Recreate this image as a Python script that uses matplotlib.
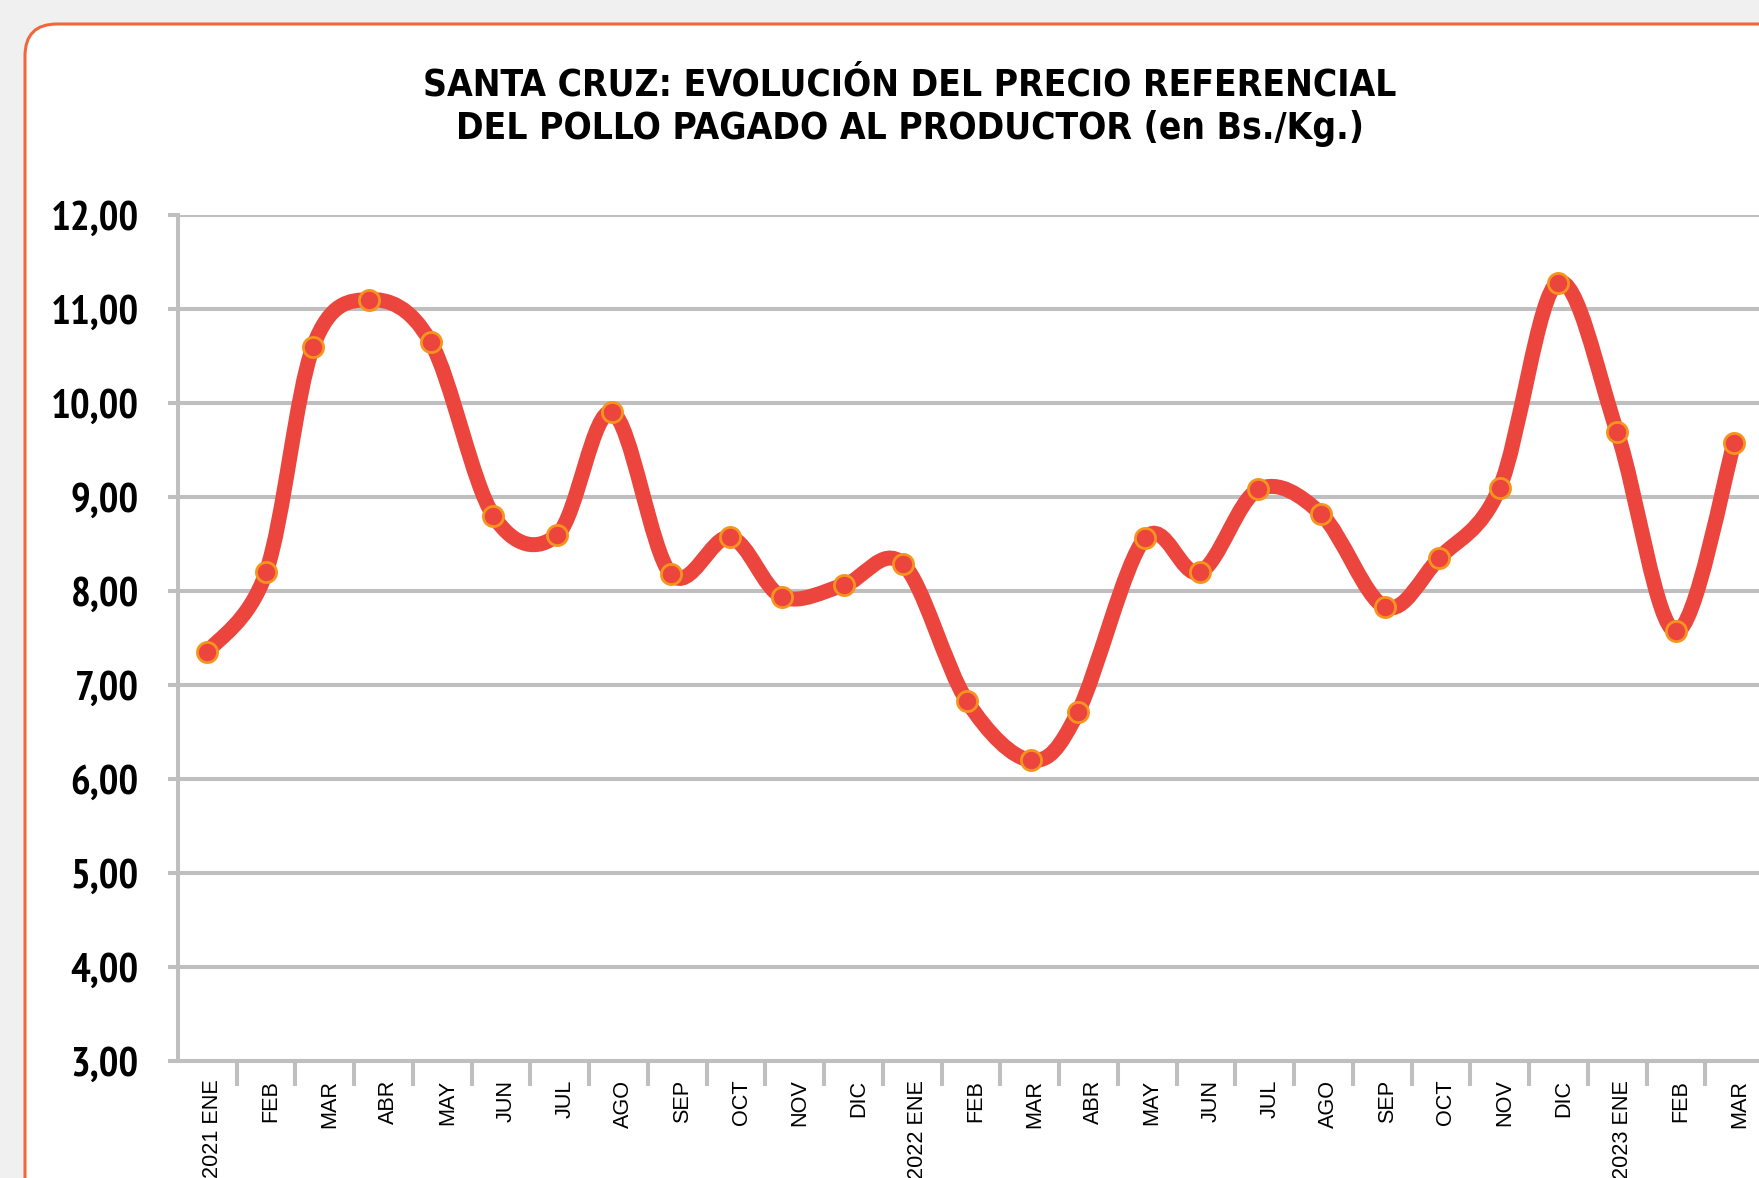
import numpy as np
import matplotlib
matplotlib.use("Agg")
import matplotlib.pyplot as plt
from matplotlib.path import Path
from matplotlib.patches import PathPatch, FancyBboxPatch
from matplotlib.transforms import IdentityTransform, ScaledTranslation
from matplotlib import font_manager as fm

# ---------------- data ----------------
months = ["2021 ENE", "FEB", "MAR", "ABR", "MAY", "JUN", "JUL", "AGO", "SEP", "OCT", "NOV", "DIC",
          "2022 ENE", "FEB", "MAR", "ABR", "MAY", "JUN", "JUL", "AGO", "SEP", "OCT", "NOV", "DIC",
          "2023 ENE", "FEB", "MAR"]
# position of each observation along the month axis (observation date within month)
obs_pos = [0.00, 1.00, 1.80, 2.75, 3.80, 4.87, 5.96, 6.89, 7.89, 8.90, 9.78, 10.83,
           11.84, 12.93, 14.02, 14.82, 15.96, 16.90, 17.89, 18.96, 20.05, 20.97, 22.00, 22.99,
           24.00, 25.00, 25.99]
prices = [7.35, 8.20, 10.60, 11.10, 10.65, 8.80, 8.60, 9.90, 8.18, 8.57, 7.94, 8.06,
          8.29, 6.83, 6.20, 6.71, 8.56, 8.20, 9.08, 8.82, 7.83, 8.35, 9.10, 11.28,
          9.69, 7.57, 9.57]
yticks = [3, 4, 5, 6, 7, 8, 9, 10, 11, 12]
ytick_labels = [f"{v:.2f}".replace(".", ",") for v in yticks]
title1 = "SANTA CRUZ: EVOLUCIÓN DEL PRECIO REFERENCIAL"
title2 = "DEL POLLO PAGADO AL PRODUCTOR (en Bs./Kg.)"

W, H = 1759, 1178
fig = plt.figure(figsize=(W / 100, H / 100), dpi=100, facecolor="#F0F0F0")
renderer = fig.canvas.get_renderer()


# ---------------- fonts ----------------
def _w(v):
    try:
        return int(v)
    except Exception:
        return {"bold": 700, "heavy": 800, "black": 900, "semibold": 600,
                "demibold": 600, "extra bold": 800}.get(str(v).lower(), 400)


_cands = []
for f in fm.fontManager.ttflist:
    nm, fn, st = f.name.lower(), f.fname.lower(), str(f.stretch).lower()
    if "mono" in nm or "serif" in nm or "cjk" in nm or "italic" in fn or "oblique" in fn:
        continue
    cond = ("condensed" in st or "narrow" in nm or "condensed" in nm
            or "condensed" in fn or "narrow" in fn)
    if not cond or not (650 <= _w(f.weight) <= 750):
        continue
    if "semi" in fn or "extra" in fn or "ultra" in fn:
        continue
    _cands.append(f.fname)


def choose_font(text, target_cap, target_width):
    best, best_err = None, 1e9
    for fname in _cands:
        try:
            p = fm.FontProperties(fname=fname, size=20)
            _, hcap, _ = renderer.get_text_width_height_descent("H", p, ismath=False)
            size = 20 * target_cap / hcap
            p = fm.FontProperties(fname=fname, size=size)
            w, _, _ = renderer.get_text_width_height_descent(text, p, ismath=False)
        except Exception:
            continue
        err = abs(w - target_width) / target_width
        if err < best_err:
            best, best_err = (fname, size), err
    return best


regular = "Liberation Sans" if "Liberation Sans" in {f.name for f in fm.fontManager.ttflist} else "DejaVu Sans"


def make_fp(choice, fallback_size):
    if choice is not None:
        return fm.FontProperties(fname=choice[0], size=choice[1])
    return fm.FontProperties(family=[regular, "DejaVu Sans"], weight="bold", size=fallback_size)


t_choice = choose_font(title1, 28.0, 975.0)
y_choice = choose_font("12,00", 28.3, 86.0)
title_fp = make_fp(t_choice, 26.5)
ylab_fp = make_fp(y_choice, 25)

card = FancyBboxPatch((25, -120), 1900, (H - 24) + 120,
                      boxstyle="round,pad=0,rounding_size=32",
                      transform=IdentityTransform(), facecolor="white",
                      edgecolor="#F2663C", linewidth=2.2, zorder=0)
fig.add_artist(card)

x_left, x_right = 178, 1764
y_top, y_bot = 215, 1061
ax = fig.add_axes([x_left / W, (H - y_bot) / H, (x_right - x_left) / W, (y_bot - y_top) / H])
ax.set_facecolor("none")

n = len(months)
x = np.array(obs_pos, dtype=float)
y = np.array(prices, dtype=float)
ax.set_xlim(-0.5, n - 0.5)
ax.set_ylim(3, 12)

grid_c = "#BFBFBF"
red = "#EC453D"
orange = "#F7941D"

ax.set_yticks(yticks)
ax.set_yticklabels(ytick_labels)
ax.yaxis.grid(True, color=grid_c, linewidth=2.9, zorder=0)
ax.set_axisbelow(True)
for s in ("top", "right"):
    ax.spines[s].set_visible(False)
for s in ("left", "bottom"):
    ax.spines[s].set_color(grid_c)
    ax.spines[s].set_linewidth(2.9)

ax.tick_params(axis="y", direction="out", length=7.2, width=2.9, color=grid_c, pad=21)
for lab in ax.get_yticklabels():
    lab.set_fontproperties(ylab_fp)

ax.set_xticks(np.arange(n))
ax.set_xticklabels(months, rotation=90, fontfamily=[regular, "DejaVu Sans"], fontsize=15.6)
ax.tick_params(axis="x", which="major", length=0, pad=13.5)
ax.set_xticks(np.arange(0.5, n - 0.5, 1.0), minor=True)
ax.tick_params(axis="x", which="minor", direction="out", length=18, width=2.9, color=grid_c)
offset = ScaledTranslation(5 / 100, 0, fig.dpi_scale_trans)
for lab in ax.get_xticklabels():
    lab.set_transform(lab.get_transform() + offset)

# smoothed line: Bezier segments with spreadsheet-style (Catmull-Rom) control points
P = np.column_stack([x, y])
verts = [P[0]]
codes = [Path.MOVETO]
for i in range(n - 1):
    p0 = P[i - 1] if i > 0 else P[i]
    p1 = P[i]
    p2 = P[i + 1]
    p3 = P[i + 2] if i + 2 < n else P[i + 1]
    c1 = p1 + (p2 - p0) / 6.0
    c2 = p2 - (p3 - p1) / 6.0
    verts += [c1, c2, p2]
    codes += [Path.CURVE4] * 3
path = Path(np.array(verts), codes)
ax.add_patch(PathPatch(path, facecolor="none", edgecolor=red, linewidth=10.8,
                       joinstyle="miter", capstyle="butt", zorder=3, clip_on=False))

ax.plot(x, y, linestyle="none", marker="o", markersize=14.5, markerfacecolor=red,
        markeredgecolor=orange, markeredgewidth=2.0, zorder=4, clip_on=False)

fig.text(910 / W, 1 - 95 / H, title1, ha="center", va="baseline", fontproperties=title_fp)
fig.text(910 / W, 1 - 139 / H, title2, ha="center", va="baseline", fontproperties=title_fp)

fig.savefig("out.png", dpi=100, facecolor=fig.get_facecolor())
